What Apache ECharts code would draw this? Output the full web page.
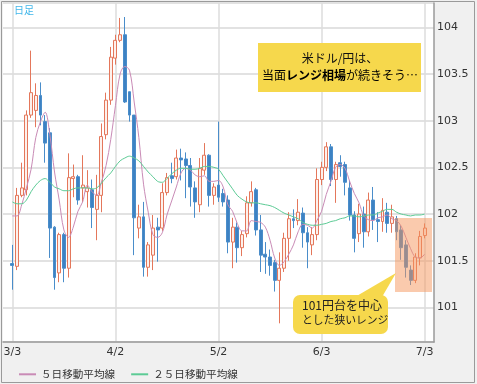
<!DOCTYPE html>
<html><head><meta charset="utf-8">
<script src="https://cdn.jsdelivr.net/npm/echarts@6/dist/echarts.min.js"></script>
<style>html,body{margin:0;padding:0;background:#f0f0f0}#c{width:477px;height:384px}</style>
</head><body><div id="c"></div>
<script>
const dates = ['3/3','3/4','3/5','3/6','3/7','3/10','3/11','3/12','3/13','3/14','3/17','3/18','3/19','3/20','3/21','3/24','3/25','3/26','3/27','3/28','3/31',
'4/1','4/2','4/3','4/4','4/7','4/8','4/9','4/10','4/11','4/14','4/15','4/16','4/17','4/18','4/21','4/22','4/23','4/24','4/25','4/28','4/29','4/30',
'5/1','5/2','5/5','5/6','5/7','5/8','5/9','5/12','5/13','5/14','5/15','5/16','5/19','5/20','5/21','5/22','5/23','5/26','5/27','5/28','5/29','5/30',
'6/2','6/3','6/4','6/5','6/6','6/9','6/10','6/11','6/12','6/13','6/16','6/17','6/18','6/19','6/20','6/23','6/24','6/25','6/26','6/27','6/30',
'7/1','7/2','7/3'];
const labelDates = ['3/3','4/2','5/2','6/3','7/3'];
const opens  = [101.47,101.44,102.20,102.26,103.06,103.11,103.27,102.99,102.87,101.86,101.37,101.78,101.42,102.38,102.40,102.28,102.24,102.26,102.05,102.20,102.85,103.22,103.67,103.86,103.92,103.31,103.06,101.85,101.97,101.43,101.56,101.86,101.85,102.23,102.41,102.40,102.60,102.59,102.52,102.28,102.10,102.47,102.63,102.20,102.31,102.22,102.15,101.70,101.86,101.64,101.79,102.12,102.26,101.83,101.57,101.54,101.48,101.29,101.42,101.74,101.95,101.93,102.01,101.80,101.67,101.78,102.37,102.50,102.72,102.37,102.55,102.53,102.28,101.99,101.79,102.00,101.81,102.15,101.94,101.92,102.02,101.90,101.95,101.83,101.67,101.40,101.29,101.53,101.77];
const closes = [101.45,102.20,102.28,103.06,103.30,103.27,103.06,102.76,101.85,101.32,101.78,101.42,102.39,102.40,102.15,102.31,102.28,102.07,102.20,102.83,103.22,103.68,103.86,103.92,103.20,103.06,101.96,101.97,101.43,101.67,101.85,101.83,102.23,102.39,102.38,102.60,102.58,102.52,102.29,102.13,102.49,102.63,102.20,102.29,102.18,102.13,101.70,101.86,101.64,101.78,102.12,102.24,101.83,101.56,101.54,101.45,101.29,101.42,101.74,101.95,101.93,102.02,101.80,101.70,101.78,102.37,102.50,102.72,102.37,102.53,102.51,102.34,101.99,101.74,102.00,101.81,102.15,101.94,101.92,102.04,101.90,101.97,101.81,101.64,101.43,101.29,101.54,101.76,101.85];
const lows   = [101.19,101.40,102.18,102.20,103.03,102.93,102.95,102.55,101.53,101.19,101.27,101.27,101.32,102.18,102.10,102.13,102.07,101.85,101.72,102.02,102.80,103.17,103.60,103.84,103.19,102.99,101.56,101.74,101.33,101.33,101.40,101.49,101.82,102.20,102.33,102.37,102.36,102.17,102.08,101.96,102.02,102.42,102.08,102.10,102.13,102.08,101.58,101.42,101.48,101.55,101.75,102.08,101.77,101.38,101.36,101.34,101.17,100.83,101.38,101.50,101.85,101.88,101.64,101.42,101.56,101.72,102.31,102.46,102.30,102.12,102.40,102.20,101.93,101.59,101.70,101.64,101.76,101.83,101.70,101.81,101.80,101.80,101.72,101.51,101.32,101.24,101.26,101.45,101.74];
const highs  = [101.67,102.28,102.55,103.11,103.75,103.40,103.41,103.06,102.92,101.87,101.80,101.80,102.65,102.53,102.42,102.63,102.47,102.37,102.42,102.97,103.30,103.79,103.92,104.10,104.11,103.31,103.06,102.10,102.13,101.70,101.99,101.96,102.33,102.44,102.55,102.69,102.70,102.66,102.60,102.35,102.60,102.76,102.64,102.33,102.99,102.27,102.20,101.96,101.91,101.82,102.19,102.35,102.28,101.99,101.70,101.62,101.51,101.59,101.80,102.02,102.05,102.16,102.07,101.86,101.86,102.49,102.56,102.77,102.75,102.56,102.63,102.56,102.36,102.03,102.11,102.08,102.23,102.29,102.02,102.17,102.12,102.10,101.98,101.88,101.72,101.45,101.58,101.82,101.90];
const ma5  = [101.98,101.98,102.10,102.28,102.48,102.82,102.99,103.09,102.85,102.45,102.15,101.83,101.75,101.86,102.03,102.13,102.31,102.24,102.20,102.34,102.52,102.80,103.16,103.50,103.58,103.54,103.20,102.82,102.32,102.02,101.78,101.75,101.80,101.99,102.14,102.29,102.44,102.49,102.47,102.42,102.40,102.41,102.35,102.35,102.36,102.29,102.10,102.03,101.90,101.82,101.82,101.93,101.92,101.91,101.86,101.72,101.53,101.45,101.49,101.57,101.67,101.81,101.89,101.88,101.85,101.93,102.03,102.21,102.35,102.50,102.53,102.49,102.35,102.22,102.12,101.98,101.94,101.93,101.96,101.97,101.99,101.95,101.93,101.87,101.75,101.63,101.54,101.53,101.57];
const ma25 = [102.13,102.11,102.11,102.15,102.24,102.31,102.36,102.38,102.34,102.29,102.27,102.25,102.25,102.27,102.28,102.28,102.28,102.27,102.28,102.33,102.39,102.44,102.51,102.57,102.60,102.62,102.60,102.57,102.51,102.45,102.40,102.35,102.34,102.38,102.43,102.47,102.49,102.49,102.48,102.48,102.49,102.51,102.51,102.50,102.48,102.41,102.34,102.27,102.20,102.16,102.13,102.12,102.12,102.11,102.10,102.09,102.07,102.04,102.01,101.99,101.97,101.95,101.91,101.89,101.88,101.88,101.89,101.90,101.92,101.93,101.95,101.96,101.98,101.98,101.97,101.98,101.99,101.99,102.01,102.03,102.05,102.05,102.02,102.00,101.99,101.98,101.99,101.99,102.00];

const padL = ['pL1','pL2'], padR = ['pR1','pR2'];
const cats = padL.concat(dates, padR);
const gap = ['-','-'];
const candle = gap.map(()=>['-','-','-','-']).concat(dates.map((d,i)=>[opens[i],closes[i],lows[i],highs[i]]), gap.map(()=>['-','-','-','-']));
const m5 = gap.concat(ma5, gap);
const m25 = gap.concat(ma25, gap);
const showLab = (i, v) => labelDates.indexOf(v) >= 0;

const chart = echarts.init(document.getElementById('c'), null, {renderer:'canvas'});
const cjk = '"Noto Sans CJK JP", sans-serif';
chart.setOption({
  animation: false,
  backgroundColor: '#f0f0f0',
  grid: {left: 3, right: 43, top: 3, bottom: 42, show: true, backgroundColor: '#fff', borderWidth: 0},
  legend: {
    left: 14, top: 364, itemWidth: 17, itemHeight: 2, itemGap: 16, icon: 'rect',
    textStyle: {fontFamily: cjk, fontSize: 10.6, color: '#333'},
    data: ['５日移動平均線', '２５日移動平均線']
  },
  xAxis: {
    type: 'category', data: cats, boundaryGap: false,
    axisLine: {lineStyle: {color: '#9a9a9a', width: 1.5}},
    axisTick: {show: false},
    axisLabel: {interval: showLab, fontFamily: 'DejaVu Sans', fontSize: 11, color: '#333', margin: 5},
    splitLine: {show: true, interval: showLab, lineStyle: {color: '#dcdcdc', width: 1.5}}
  },
  yAxis: {
    type: 'value', position: 'right', min: 100.63, max: 104.26, splitNumber: 7, scale: true,
    axisLine: {show: true, lineStyle: {color: '#9a9a9a', width: 1.5}},
    axisTick: {show: false},
    axisLabel: {showMinLabel: false, showMaxLabel: false, fontFamily: 'DejaVu Sans', fontSize: 11, color: '#333', margin: 3,
      formatter: v => (Math.abs(v*2 - Math.round(v*2)) < 1e-6) ? String(v) : ''},
    splitLine: {lineStyle: {color: '#e2e2e2', width: 2}}
  },
  series: [
    {type: 'candlestick', data: candle, barWidth: 3.4,
     itemStyle: {color: '#fdf1ec', color0: '#3d82c3', borderColor: '#e4775b', borderColor0: '#4a8dca', borderWidth: 1}},
    {name: '５日移動平均線', type: 'line', data: m5, smooth: 0.35, symbol: 'none', lineStyle: {color: '#c98bb6', width: 1}, itemStyle: {color: '#c98bb6'}, z: 3},
    {name: '２５日移動平均線', type: 'line', data: m25, smooth: 0.35, symbol: 'none', lineStyle: {color: '#5ccb95', width: 1}, itemStyle: {color: '#5ccb95'}, z: 3}
  ],
  graphic: [
    {type: 'rect', z: 200, silent: true, shape: {x: 1.5, y: 1.5, width: 473, height: 381}, style: {fill: 'none', stroke: '#9a9a9a', lineWidth: 1}},
    {type: 'text', z: 200, x: 14, y: 5, style: {text: '日足', fill: '#3fb6ea', font: '10px "Noto Sans CJK JP"'}},
    {type: 'rect', z: 200, shape: {x: 258, y: 43, width: 163, height: 49}, style: {fill: '#f6d84c'}},
    {type: 'text', z: 201, x: 340, y: 52, style: {text: '米ドル/円は、', fill: '#111', align: 'center', font: '12px "Noto Sans CJK JP"'}},
    {type: 'text', z: 201, x: 340, y: 69, style: {text: '{n|当面}{b|レンジ相場}{n|が続きそう…}', align: 'center',
      rich: {n: {fontFamily: cjk, fontSize: 12, color: '#111'}, b: {fontFamily: cjk, fontSize: 12, fontWeight: 'bold', color: '#111'}}}},
    {type: 'rect', z: 200, shape: {x: 395, y: 218, width: 37, height: 74}, style: {fill: 'rgba(245,150,92,0.5)'}},
    {type: 'polygon', z: 200, shape: {points: [[355, 297], [382, 297], [396, 273]]}, style: {fill: '#f6d84c'}},
    {type: 'rect', z: 200, shape: {x: 293, y: 295, width: 95, height: 39, r: 7}, style: {fill: '#f6d84c'}},
    {type: 'text', z: 201, x: 302, y: 299, style: {text: '101円台を中心', fill: '#222', font: '12px "Noto Sans CJK JP"'}},
    {type: 'text', z: 201, x: 302, y: 315, style: {text: 'とした狭いレンジ', fill: '#222', font: '10.8px "Noto Sans CJK JP"'}}
  ]
});
</script></body></html>
